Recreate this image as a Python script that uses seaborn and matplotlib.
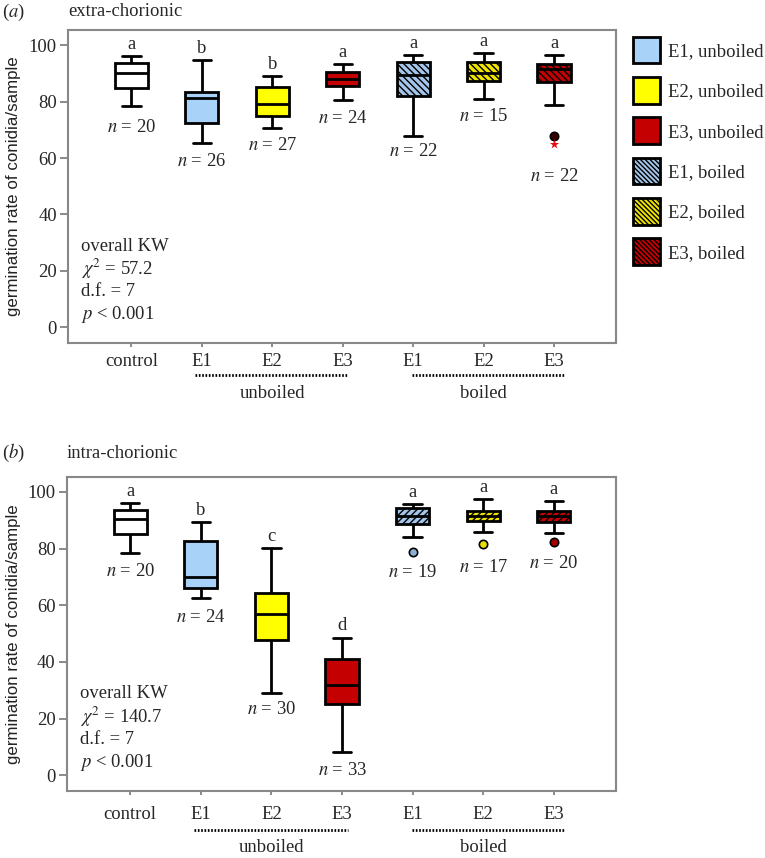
import numpy as np
import pandas as pd
import seaborn as sns
import matplotlib.pyplot as plt
import matplotlib.transforms as mtransforms
from matplotlib.patches import Patch

groups = ["control", "E1, unboiled", "E2, unboiled", "E3, unboiled",
          "E1, boiled", "E2, boiled", "E3, boiled"]
tick_labels = ["control", "E1", "E2", "E3", "E1", "E2", "E3"]
fill_colors = ["#ffffff", "#a8d2f8", "#ffff00", "#c40000", "#a4c6ea", "#eee400", "#c40000"]
hatch_colors = [None, None, None, None, "#3f6f9f", "#3c3a00", "#5c0000"]

# (a) extra-chorionic  -- five number summaries
a_lo = [78.3, 65.5, 70.6, 80.6, 67.8, 80.9, 78.8]
a_q1 = [85.0, 72.4, 74.9, 85.6, 82.1, 87.3, 86.8]
a_med = [90.3, 81.2, 79.1, 87.9, 89.5, 90.3, 91.7]
a_q3 = [93.7, 83.4, 85.2, 90.5, 94.0, 93.9, 93.3]
a_hi = [96.2, 94.9, 89.0, 93.3, 96.5, 97.4, 96.5]
a_letters = ["a", "b", "b", "a", "a", "a", "a"]
a_n = [20, 26, 27, 24, 22, 15, 22]
a_n_y = [71.0, 58.9, 64.3, 74.0, 62.2, 74.8, 53.5]
a_out_groups = ["E3, boiled"]
a_out_vals = [67.7]
a_extreme_groups = ["E3, boiled"]
a_extreme_vals = [65.1]
a_stats = ["overall KW", r"$\chi^2$ = 57.2", "d.f. = 7", r"$p$ < 0.001"]

# (b) intra-chorionic
b_lo = [78.3, 62.7, 29.1, 8.0, 84.2, 85.7, 85.4]
b_q1 = [85.0, 66.1, 47.9, 25.3, 88.7, 89.6, 89.3]
b_med = [90.4, 70.1, 56.9, 31.9, 91.5, 91.5, 91.4]
b_q3 = [93.6, 82.8, 64.3, 41.1, 94.3, 93.2, 93.4]
b_hi = [96.1, 89.5, 80.1, 48.6, 95.9, 97.5, 96.8]
b_letters = ["a", "b", "c", "d", "a", "a", "a"]
b_n = [20, 24, 30, 33, 19, 17, 20]
b_n_y = [71.9, 55.5, 23.1, 1.6, 71.6, 73.5, 74.9]
b_out_groups = ["E1, boiled", "E2, boiled", "E3, boiled"]
b_out_vals = [78.7, 81.6, 82.5]
b_stats = ["overall KW", r"$\chi^2$ = 140.7", "d.f. = 7", r"$p$ < 0.001"]

out_face = {"E1, boiled": "#8fb0d4", "E2, boiled": "#e8e000", "E3, boiled": "#a00000"}

sns.set_style("white")
plt.rcParams["font.family"] = ["Liberation Serif", "DejaVu Serif"]
plt.rcParams["mathtext.fontset"] = "stix"
plt.rcParams["hatch.linewidth"] = 1.0

FS = 13.4
fig = plt.figure(figsize=(7.65, 8.58), dpi=100)
ax_a = fig.add_axes([68 / 765, 1 - 343 / 858, 548 / 765, 313 / 858])
ax_b = fig.add_axes([66.7 / 765, 1 - 791 / 858, 549.3 / 765, 314.3 / 858])


def box_frame(lo, q1, med, q3, hi):
    rows = []
    for g, vals in zip(groups, zip(lo, q1, med, q3, hi)):
        for v in vals:
            rows.append((g, v))
    return pd.DataFrame(rows, columns=["group", "rate"])


def draw_panel(ax, df, hatch, hi, letters, n, n_y, stats, bracket_y, label_y, ylab_x, xpad):
    sns.boxplot(data=df, x="group", y="rate", hue="group", order=groups, hue_order=groups,
                palette=dict(zip(groups, fill_colors)), saturation=1, width=0.47,
                linecolor="black", linewidth=2.0, showfliers=False, legend=False,
                medianprops={"color": "black", "linewidth": 2.0}, capwidths=0.26, ax=ax)
    for p, hc in zip(ax.patches, hatch_colors):
        if hc is not None:
            p.set_hatch(hatch)
            if hasattr(p, "set_hatchcolor"):
                p.set_hatchcolor(hc)
    for i in range(len(groups)):
        ax.text(i, hi[i] + 2.5, letters[i], ha="center", va="baseline", fontsize=FS)
        ax.text(i, n_y[i], f"$n$ = {n[i]}", ha="center", va="center", fontsize=FS)
    for k, s in enumerate(stats):
        ax.text(-0.71, 28.7 - 8.1 * k, s, ha="left", va="center", fontsize=FS)

    ax.set_yticks([0, 20, 40, 60, 80, 100])
    ax.set_ylabel("germination rate of conidia/sample", family=["Liberation Sans"],
                  fontsize=12.2, color="#222222")
    ax.yaxis.set_label_coords(ylab_x, 0.5)
    ax.tick_params(axis="y", left=True, length=6, width=1.2, color="#777777",
                   labelsize=FS, pad=2)
    ax.tick_params(axis="x", bottom=True, length=3, width=1.2, color="#777777",
                   labelsize=FS, pad=xpad)
    for sp in ax.spines.values():
        sp.set_color("#888888")
        sp.set_linewidth(1.5)

    trans = mtransforms.blended_transform_factory(ax.transData, ax.transAxes)
    for (x0, x1, xc, name) in [(0.9, 3.08, 2.0, "unboiled"), (3.99, 6.15, 5.0, "boiled")]:
        ax.plot([x0, x1], [bracket_y, bracket_y], transform=trans, clip_on=False,
                color="black", linewidth=2.0, linestyle=(0, (0.6, 0.6)))
        ax.text(xc, label_y, name, transform=trans, ha="center", va="center", fontsize=FS)


df_a = box_frame(a_lo, a_q1, a_med, a_q3, a_hi)
draw_panel(ax_a, df_a, "\\\\\\\\\\", a_hi, a_letters, a_n, a_n_y, a_stats,
           -0.103, -0.16, -0.085, 4)
sns.stripplot(x=a_out_groups, y=a_out_vals, order=groups, jitter=False, color="#3a0000",
              size=6, edgecolor="black", linewidth=1.2, ax=ax_a)
sns.stripplot(x=a_extreme_groups, y=a_extreme_vals, order=groups, jitter=False, color="#e01010",
              marker="*", size=7, linewidth=0, ax=ax_a)

df_b = box_frame(b_lo, b_q1, b_med, b_q3, b_hi)
draw_panel(ax_b, df_b, "/////", b_hi, b_letters, b_n, b_n_y, b_stats,
           -0.124, -0.18, -0.083, 7.5)
sns.stripplot(x=b_out_groups, y=b_out_vals, order=groups, hue=b_out_groups, palette=out_face,
              jitter=False, size=6, edgecolor="black", linewidth=1.2, legend=False, ax=ax_b)

for ax in (ax_a, ax_b):
    ax.set_xlim(-0.9, 6.88)
    ax.set_ylim(-5.6, 105.4)
    ax.set_xticks(range(len(groups)))
    ax.set_xticklabels(tick_labels)
    ax.set_xlabel("")

fig.text(2 / 765, 1 - 12 / 858, "($a$)", fontsize=FS, va="center")
fig.text(68 / 765, 1 - 12 / 858, "extra-chorionic", fontsize=FS, va="center")
fig.text(2 / 765, 1 - 453 / 858, "($b$)", fontsize=FS, va="center")
fig.text(67 / 765, 1 - 453 / 858, "intra-chorionic", fontsize=FS, va="center")

handles = []
for g, fc, hc in zip(groups[1:], fill_colors[1:], hatch_colors[1:]):
    kw = {}
    if hc is not None:
        kw["hatch"] = "\\\\\\\\\\\\\\"
    h = Patch(facecolor=fc, edgecolor="black", linewidth=2.0, **kw)
    if hc is not None and hasattr(h, "set_hatchcolor"):
        h.set_hatchcolor(hc)
    handles.append(h)
fig.legend(handles, groups[1:], loc="upper left", bbox_to_anchor=(633 / 765, 1 - 36.5 / 858),
           frameon=False, handlelength=1.45, handleheight=1.85, labelspacing=0.72,
           handletextpad=0.45, borderpad=0, borderaxespad=0, fontsize=FS)

fig.savefig("out.png", dpi=100)
